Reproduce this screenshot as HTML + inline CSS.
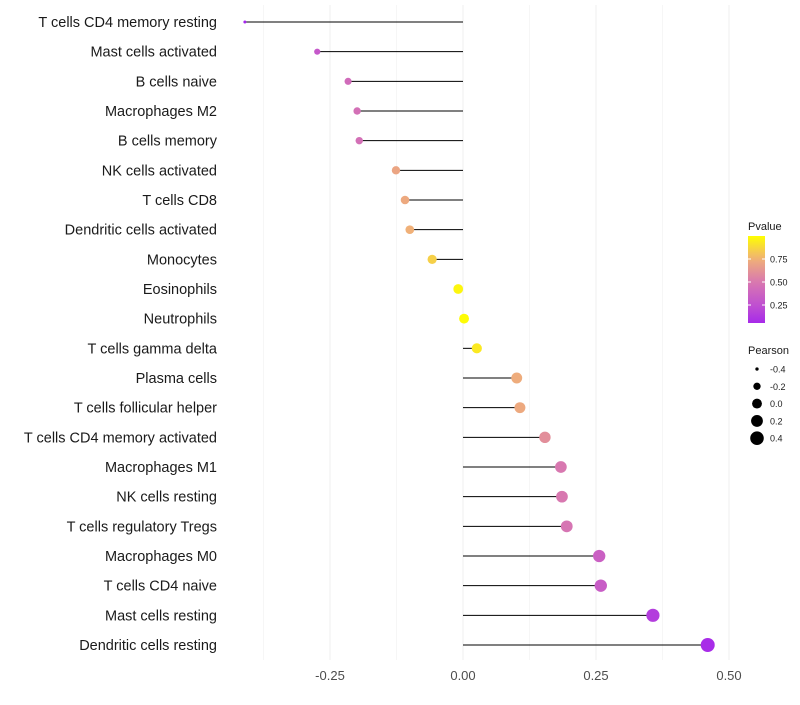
<!DOCTYPE html>
<html><head><meta charset="utf-8"><style>
body{margin:0;background:#fff;font-family:"Liberation Sans",sans-serif}
</style></head><body>
<svg id="chart" width="800" height="700" xmlns="http://www.w3.org/2000/svg"></svg>
<script>
const categories=["T cells CD4 memory resting","Mast cells activated","B cells naive","Macrophages M2","B cells memory","NK cells activated","T cells CD8","Dendritic cells activated","Monocytes","Eosinophils","Neutrophils","T cells gamma delta","Plasma cells","T cells follicular helper","T cells CD4 memory activated","Macrophages M1","NK cells resting","T cells regulatory  Tregs","Macrophages M0","T cells CD4 naive","Mast cells resting","Dendritic cells resting"];
const pearson=[-0.41,-0.274,-0.216,-0.199,-0.195,-0.126,-0.109,-0.1,-0.058,-0.009,0.002,0.026,0.101,0.107,0.154,0.184,0.186,0.195,0.256,0.259,0.357,0.46];
const pvalue=[0.03,0.3,0.42,0.45,0.45,0.7,0.72,0.75,0.85,0.97,0.99,0.93,0.73,0.72,0.6,0.5,0.5,0.48,0.35,0.33,0.15,0.06];
const xTicks=[-0.25,0,0.25,0.5];
const xTickLabels=["-0.25","0.00","0.25","0.50"];
const pTicks=[0.25,0.5,0.75];
const sizeTicks=[-0.4,-0.2,0,0.2,0.4];
const NS="http://www.w3.org/2000/svg";
const svg=document.getElementById('chart');
const X=v=>463+v*532;
const Y=i=>22+i*29.667;
const R=v=>Math.sqrt(Math.max(1,24.3+53.7*v));
const stops=[[0,[160,32,240]],[0.25,[192,80,208]],[0.5,[216,120,176]],[0.75,[240,176,120]],[1,[255,255,0]]];
function col(v){v=Math.max(0,Math.min(1,v));for(let i=0;i<stops.length-1;i++){const a=stops[i],b=stops[i+1];if(v<=b[0]){const t=(v-a[0])/(b[0]-a[0]);return 'rgb('+a[1].map((c,k)=>Math.round(c+(b[1][k]-c)*t)).join(',')+')';}}return 'rgb(255,255,0)';}
function mk(t,a){const e=document.createElementNS(NS,t);for(const k in a)e.setAttribute(k,a[k]);svg.appendChild(e);return e;}
[-0.375,-0.25,-0.125,0,0.125,0.25,0.375,0.5].forEach(v=>{
const g=mk('line',{x1:X(v),x2:X(v),y1:5,y2:660,stroke:'#f0f0f0','stroke-width':(v*8)%2===0?1.1:0.6});


});
xTicks.forEach((v,i)=>{
const t=mk('text',{x:X(v),y:680,'text-anchor':'middle','font-size':13,fill:'#4d4d4d'});t.textContent=xTickLabels[i];


});
categories.forEach((c,i)=>{
const t=mk('text',{x:217,y:Y(i)+5,'text-anchor':'end','font-size':14.5,fill:'#1a1a1a'});t.textContent=c;


const l=mk('line',{x1:X(0),x2:X(pearson[i]),y1:Y(i),y2:Y(i),stroke:'#000','stroke-width':1});


const p=mk('circle',{cx:X(pearson[i]),cy:Y(i),r:R(pearson[i]),fill:col(pvalue[i])});


});
const defs=mk('defs',{});
const lg=document.createElementNS(NS,'linearGradient');lg.setAttribute('id','pg');lg.setAttribute('x1',0);lg.setAttribute('x2',0);lg.setAttribute('y1',1);lg.setAttribute('y2',0);defs.appendChild(lg);
const vmin=0.054,vmax=1.0;
for(let k=0;k<=10;k++){const v=vmin+(vmax-vmin)*k/10;const s=document.createElementNS(NS,'stop');s.setAttribute('offset',k/10);s.setAttribute('stop-color',col(v));lg.appendChild(s);}
const lt=mk('text',{x:748,y:230,'font-size':11,fill:'#1a1a1a'});lt.textContent='Pvalue';


const bar=mk('rect',{x:748,y:236,width:17,height:87,fill:'url(#pg)'});


const PY=v=>259+(0.75-v)*92;
pTicks.forEach(v=>{
mk('line',{x1:748,x2:751,y1:PY(v),y2:PY(v),stroke:'#fff'});mk('line',{x1:762,x2:765,y1:PY(v),y2:PY(v),stroke:'#fff'});
const t=mk('text',{x:770,y:PY(v)+3.5,'font-size':9,fill:'#1a1a1a'});t.textContent=v.toFixed(2);


});
const st=mk('text',{x:748,y:354,'font-size':11,fill:'#1a1a1a'});st.textContent='Pearson';


sizeTicks.forEach((v,i)=>{
const y=369+i*17.3;
const c=mk('circle',{cx:757,cy:y,r:R(v),fill:'#000'});


const t=mk('text',{x:770,y:y+3.5,'font-size':9,fill:'#1a1a1a'});t.textContent=v.toFixed(1);


});
</script>
</body></html>
